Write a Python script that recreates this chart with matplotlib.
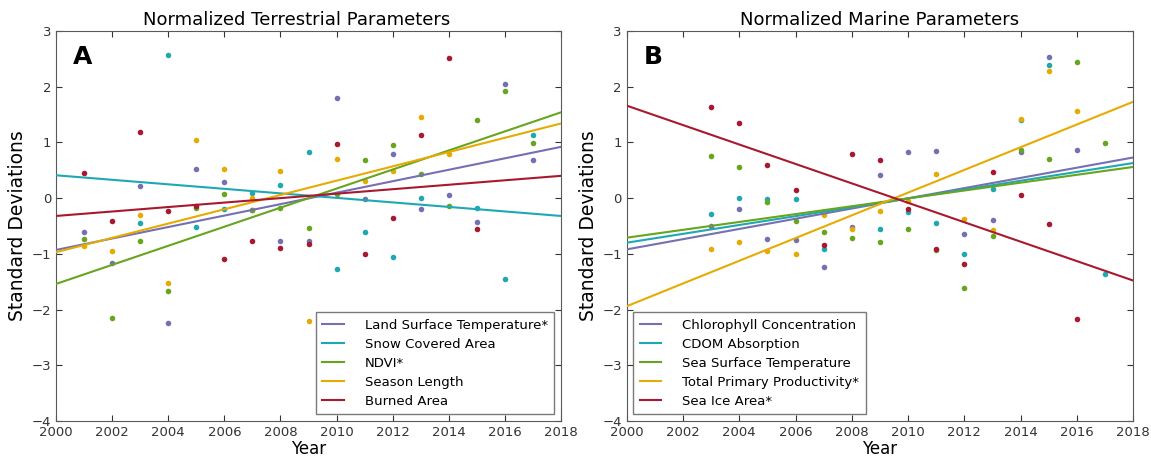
import matplotlib
matplotlib.use("Agg")
import matplotlib.pyplot as plt
import numpy as np

# --- Terrestrial (panel A) ---
lst_years = list(range(2001, 2018))
lst = [-0.60, -1.17, 0.22, -2.24, 0.53, 0.29, -0.21, -0.77, -0.77, 1.79, -0.02, 0.80, -0.20, 0.05, -0.43, 2.05, 0.68]

snow_years = [2003, 2004, 2005, 2006, 2007, 2008, 2009, 2010, 2011, 2012, 2013, 2015, 2016, 2017]
snow = [-0.45, 2.57, -0.52, -0.20, 0.10, 0.23, 0.83, -1.27, -0.61, -1.05, 0.01, -0.17, -1.46, 1.14]

ndvi_years = list(range(2001, 2018))
ndvi = [-0.74, -2.15, -0.77, -1.66, -0.18, 0.07, -0.22, -0.17, -0.54, 0.07, 0.68, 0.95, 0.43, -0.14, 1.40, 1.92, 0.99]

season_years = list(range(2001, 2015))
season = [-0.86, -0.95, -0.31, -1.53, 1.05, 0.52, 0.00, 0.49, -2.20, 0.70, 0.31, 0.48, 1.45, 0.80]

burned_years = list(range(2001, 2016))
burned = [0.45, -0.41, 1.18, -0.23, -0.14, -1.10, -0.77, -0.90, -0.82, 0.97, -1.01, -0.35, 1.13, 2.52, -0.55]

# trend line values read at 2000 and 2018
terr_trend_start = [-0.93, 0.41, -1.54, -0.97, -0.32]
terr_trend_end = [0.92, -0.32, 1.54, 1.34, 0.40]

# --- Marine (panel B) ---
chl_years = list(range(2003, 2017))
chl = [-0.50, -0.19, -0.74, -0.75, -1.23, -0.51, 0.41, 0.82, 0.84, -0.65, -0.40, 0.83, 2.54, 0.86]

cdom_years = [2003, 2004, 2005, 2006, 2007, 2009, 2010, 2011, 2012, 2013, 2014, 2015, 2017]
cdom = [-0.29, 0.01, -0.01, -0.02, -0.92, -0.55, -0.25, -0.45, -1.01, 0.17, 1.40, 2.39, -1.37]

sst_years = list(range(2003, 2018))
sst = [0.75, 0.56, -0.07, -0.41, -0.60, -0.72, -0.78, -0.55, -0.94, -1.62, -0.68, 0.87, 0.71, 2.45, 0.99]

tpp_years = list(range(2003, 2017))
tpp = [-0.91, -0.78, -0.95, -1.01, -0.30, -0.56, -0.23, -0.05, 0.44, -0.37, -0.58, 1.42, 2.28, 1.56]

ice_years = list(range(2003, 2017))
ice = [1.63, 1.35, 0.60, 0.15, -0.85, 0.79, 0.69, -0.20, -0.91, -1.18, 0.46, 0.05, -0.46, -2.17]

mar_trend_start = [-0.92, -0.80, -0.71, -1.94, 1.66]
mar_trend_end = [0.73, 0.63, 0.56, 1.73, -1.48]

terr_labels = ["Land Surface Temperature*", "Snow Covered Area", "NDVI*",
               "Season Length", "Burned Area"]
mar_labels = ["Chlorophyll Concentration", "CDOM Absorption", "Sea Surface Temperature",
              "Total Primary Productivity*", "Sea Ice Area*"]

colors = ["#7570b3", "#1fa8b2", "#66a61e", "#e6ab02", "#a8182e"]

terr_series = [(lst_years, lst), (snow_years, snow), (ndvi_years, ndvi),
               (season_years, season), (burned_years, burned)]
mar_series = [(chl_years, chl), (cdom_years, cdom), (sst_years, sst),
              (tpp_years, tpp), (ice_years, ice)]

fig = plt.figure(figsize=(11.51, 4.61), dpi=100)
axA = fig.add_axes([0.0487, 0.0868, 0.4387, 0.846])
axB = fig.add_axes([0.5445, 0.0868, 0.4401, 0.846])


def draw_panel(ax, series, t0, t1, labels, title, letter, legloc, title_x):
    for (xs, ys), c in zip(series, colors):
        ax.plot(xs, ys, linestyle="none", marker="o", markersize=4,
                markeredgewidth=0, color=c, zorder=2)
    for a, b, c, lab in zip(t0, t1, colors, labels):
        ax.plot([2000, 2018], [a, b], color=c, linewidth=1.5, label=lab, zorder=3)
    ax.set_xlim(2000, 2018)
    ax.set_ylim(-4, 3)
    ax.set_xticks(np.arange(2000, 2019, 2))
    ax.set_yticks(np.arange(-4, 4, 1))
    ax.tick_params(direction="in", top=True, right=True, length=4,
                   labelsize=9.5, colors="0.2")
    for s in ax.spines.values():
        s.set_color("0.35")
    ax.set_title(title, fontsize=13, pad=4, x=title_x)
    ax.set_xlabel("Year", fontsize=12, labelpad=1)
    ax.set_ylabel("Standard Deviations", fontsize=13.5, labelpad=3)
    ax.text(0.034, 0.965, letter, transform=ax.transAxes, fontsize=18,
            fontweight="bold", ha="left", va="top")
    leg = ax.legend(loc=legloc, fontsize=9.5, handlelength=1.6,
                    fancybox=False, borderaxespad=0.5, labelspacing=0.45,
                    handletextpad=1.6, borderpad=0.5)
    leg.get_frame().set_edgecolor("0.35")
    leg.get_frame().set_linewidth(1.0)
    leg.set_zorder(5)


draw_panel(axA, terr_series, terr_trend_start, terr_trend_end, terr_labels,
           "Normalized Terrestrial Parameters", "A", "lower right", 0.477)
draw_panel(axB, mar_series, mar_trend_start, mar_trend_end, mar_labels,
           "Normalized Marine Parameters", "B", "lower left", 0.5)

fig.savefig("out.png", dpi=100)
